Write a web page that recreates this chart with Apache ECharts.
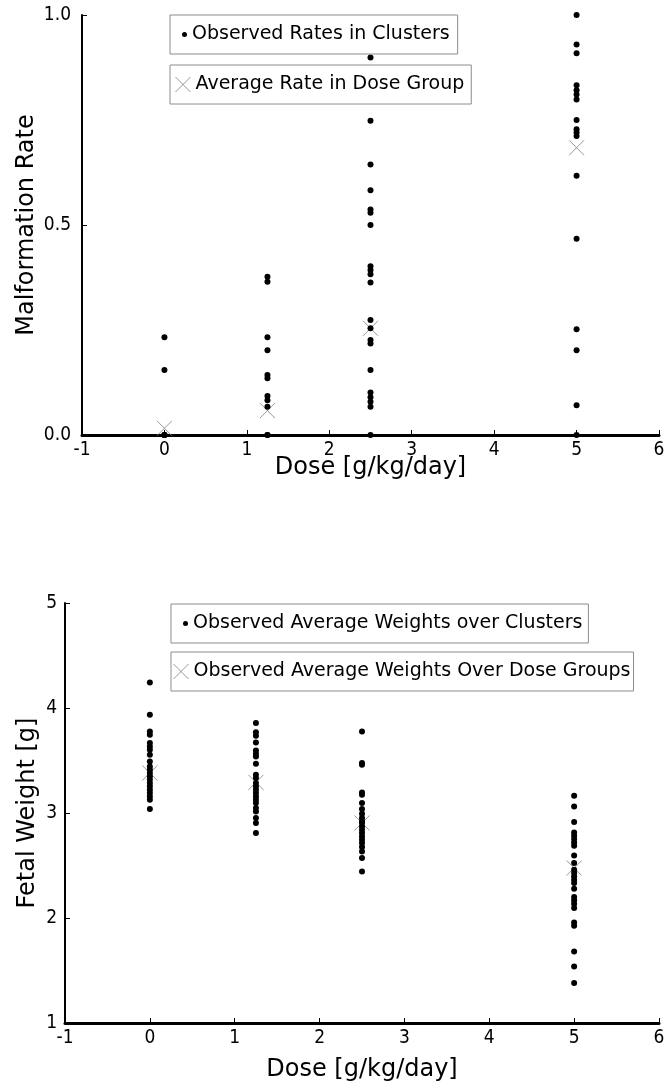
<!DOCTYPE html>
<html>
<head>
<meta charset="utf-8">
<script src="https://cdn.jsdelivr.net/npm/echarts@6/dist/echarts.min.js"></script>
<style>
html,body{margin:0;padding:0;background:#fff;}
#chart{width:668px;height:1088px;}
</style>
</head>
<body>
<div id="chart"></div>
<script>
// ---- data ----
const doseLevels = [0, 1.25, 2.5, 5];
const xTicks = [-1, 0, 1, 2, 3, 4, 5, 6];

// Top panel: malformation rates per cluster
const rateDose0 = [0.233, 0.155, 0, 0, 0];
const rateDose125 = [0.377, 0.365, 0.233, 0.202, 0.143, 0.135, 0.093, 0.083, 0.067, 0, 0];
const rateDose25 = [0.899, 0.748, 0.644, 0.583, 0.537, 0.529, 0.5, 0.402, 0.393, 0.383, 0.363, 0.274, 0.254, 0.226, 0.218, 0.155, 0.101, 0.09, 0.079, 0.067, 0];
const rateDose5 = [1.0, 0.930, 0.909, 0.833, 0.821, 0.811, 0.799, 0.75, 0.728, 0.72, 0.712, 0.617, 0.467, 0.252, 0.202, 0.071, 0];
const avgRate = [0.016, 0.058, 0.254, 0.684];
const rateTicks = ['0.0', '0.5', '1.0'];

// Bottom panel: average fetal weights per cluster
const wDose0 = [4.244, 3.936, 3.777, 3.746, 3.667, 3.634, 3.603, 3.555, 3.491, 3.444, 3.413, 3.381, 3.35, 3.318, 3.286, 3.254, 3.222, 3.19, 3.158, 3.127, 3.038];
const wDose125 = [3.857, 3.768, 3.736, 3.672, 3.596, 3.565, 3.539, 3.47, 3.365, 3.333, 3.286, 3.253, 3.222, 3.19, 3.158, 3.127, 3.095, 3.048, 3.015, 2.952, 2.905, 2.81];
const wDose25 = [3.777, 3.476, 3.46, 3.196, 3.174, 3.095, 3.038, 2.993, 2.952, 2.92, 2.905, 2.872, 2.841, 2.81, 2.777, 2.746, 2.714, 2.676, 2.634, 2.571, 2.444];
const wDose5 = [3.165, 3.063, 2.914, 2.815, 2.784, 2.752, 2.72, 2.689, 2.596, 2.524, 2.46, 2.429, 2.396, 2.365, 2.333, 2.279, 2.2, 2.168, 2.136, 2.095, 1.958, 1.927, 1.682, 1.539, 1.381];
const avgWeight = [3.381, 3.292, 2.905, 2.476];
const weightTicks = ['1', '2', '3', '4', '5'];

const topTitles = ['Observed Rates in Clusters', 'Average Rate in Dose Group'];
const bottomTitles = ['Observed Average Weights over Clusters', 'Observed Average Weights Over Dose Groups'];
const xName = 'Dose [g/kg/day]';
const topYName = 'Malformation Rate';
const bottomYName = 'Fetal Weight [g]';

// ---- build ----
function pts(groups) {
  const out = [];
  groups.forEach((g, i) => g.forEach(v => out.push([doseLevels[i], v])));
  return out;
}
const xPath = 'path://M0,0L10,10M10,0L0,10';
const FONT = 'DejaVu Sans';
const TICKFONT = "'Liberation Sans Narrow', 'DejaVu Sans Condensed', 'DejaVu Sans'";
const crossStyle = {color: 'rgba(0,0,0,0)', borderColor: '#808080', borderWidth: 1};

function xAxisCfg(grid, gap) {
  return {
    gridIndex: grid, type: 'value', min: -1, max: 6, interval: 1,
    name: xName, nameLocation: 'middle', nameGap: gap, nameMoveOverlap: false,
    nameTextStyle: {fontFamily: FONT, fontSize: 24, color: '#000'},
    axisLine: {show: true, onZero: false, lineStyle: {color: '#000', width: 3}},
    axisTick: {show: true, inside: true, length: 5, lineStyle: {color: '#000', width: 1}},
    axisLabel: {show: true, margin: 6, color: '#000', fontFamily: TICKFONT, fontSize: 19,
      formatter: v => xTicks.includes(v) ? String(v) : ''},
    splitLine: {show: false}
  };
}
function yAxisCfg(grid, min, max, interval, labels, name, gap, margin) {
  return {
    gridIndex: grid, type: 'value', min: min, max: max, interval: interval,
    name: name, nameLocation: 'middle', nameGap: gap, nameMoveOverlap: false,
    nameTextStyle: {fontFamily: FONT, fontSize: 24, color: '#000'},
    axisLine: {show: true, onZero: false, lineStyle: {color: '#000', width: 2}},
    axisTick: {show: true, inside: true, length: 5, lineStyle: {color: '#000', width: 1}},
    axisLabel: {show: true, margin: margin, color: '#000', fontFamily: TICKFONT, fontSize: 19,
      formatter: v => labels[Math.round((v - min) / interval)]},
    splitLine: {show: false}
  };
}
function legendCfg(name, icon, left, top, w, h, pad, style) {
  const d = {name: name, icon: icon};
  if (style) d.itemStyle = style;
  return {
    data: [d], left: left, top: top, orient: 'horizontal',
    itemWidth: w, itemHeight: h, padding: pad,
    borderColor: '#8c8c8c', borderWidth: 1, backgroundColor: '#fff',
    selectedMode: false,
    textStyle: {fontFamily: FONT, fontSize: 19, color: '#000', lineHeight: 18}
  };
}

const option = {
  animation: false,
  backgroundColor: '#fff',
  grid: [
    {left: 82, right: 9, top: 15, height: 420, containLabel: false},
    {left: 65, right: 9, top: 603, height: 420, containLabel: false}
  ],
  xAxis: [xAxisCfg(0, 21), xAxisCfg(1, 35)],
  yAxis: [
    yAxisCfg(0, 0, 1, 0.5, rateTicks, topYName, 43, 11),
    yAxisCfg(1, 1, 5, 1, weightTicks, bottomYName, 25, 8)
  ],
  legend: [
    legendCfg(topTitles[0], 'circle', 170, 15, 5, 5, [10, 8, 10, 12]),
    legendCfg(topTitles[1], xPath, 170, 65, 15, 15, [10, 7, 10, 5], crossStyle),
    legendCfg(bottomTitles[0], 'circle', 171, 604, 5, 5, [10, 6, 10, 12]),
    legendCfg(bottomTitles[1], xPath, 171, 652, 15, 15, [10, 3, 10, 2], crossStyle)
  ],
  series: [
    {name: topTitles[1], type: 'scatter', xAxisIndex: 0, yAxisIndex: 0, z: 2,
      symbol: xPath, symbolSize: 15, itemStyle: crossStyle,
      data: avgRate.map((v, i) => [doseLevels[i], v]), silent: true},
    {name: topTitles[0], type: 'scatter', xAxisIndex: 0, yAxisIndex: 0, z: 3,
      symbol: 'circle', symbolSize: 6, itemStyle: {color: '#000', opacity: 1},
      data: pts([rateDose0, rateDose125, rateDose25, rateDose5]), silent: true},
    {name: bottomTitles[1], type: 'scatter', xAxisIndex: 1, yAxisIndex: 1, z: 2,
      symbol: xPath, symbolSize: 15, itemStyle: crossStyle,
      data: avgWeight.map((v, i) => [doseLevels[i], v]), silent: true},
    {name: bottomTitles[0], type: 'scatter', xAxisIndex: 1, yAxisIndex: 1, z: 3,
      symbol: 'circle', symbolSize: 6, itemStyle: {color: '#000', opacity: 1},
      data: pts([wDose0, wDose125, wDose25, wDose5]), silent: true}
  ]
};
const chart = echarts.init(document.getElementById('chart'), null, {renderer: 'canvas'});
chart.setOption(option);
</script>
</body>
</html>
